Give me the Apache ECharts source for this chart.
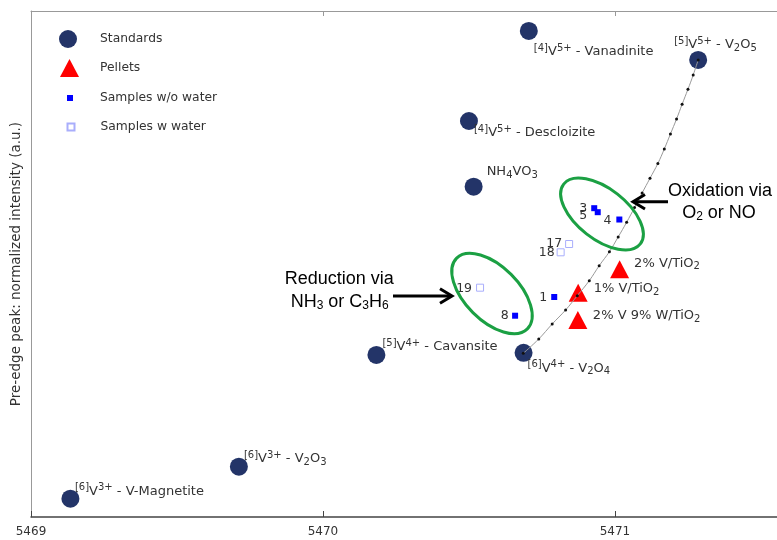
<!DOCTYPE html>
<html><head><meta charset="utf-8">
<script src="https://cdn.jsdelivr.net/npm/echarts@6/dist/echarts.min.js"></script>
<style>html,body{margin:0;padding:0;background:#fff}#c{width:777px;height:540px}</style>
</head><body><div id="c"></div>
<script>
// ---------- data ----------
const xTicks = [5469, 5470, 5471];
const standardNames = ['Vanadinite', 'V2O5', 'Descloizite', 'NH4VO3', 'Cavansite', 'V2O4', 'V2O3', 'V-Magnetite'];
const standardLabels = [
  '{sp|[4]}{t|V}{sp|5+}{t| - Vanadinite}',
  '{sp|[5]}{t|V}{sp|5+}{t| - V}{sb|2}{t|O}{sb|5}',
  '{sp|[4]}{t|V}{sp|5+}{t| - Descloizite}',
  '{t|NH}{sb|4}{t|VO}{sb|3}',
  '{sp|[5]}{t|V}{sp|4+}{t| - Cavansite}',
  '{sp|[6]}{t|V}{sp|4+}{t| - V}{sb|2}{t|O}{sb|4}',
  '{sp|[6]}{t|V}{sp|3+}{t| - V}{sb|2}{t|O}{sb|3}',
  '{sp|[6]}{t|V}{sp|3+}{t| - V-Magnetite}'
];
const standardX = [5470.705, 5471.285, 5470.500, 5470.516, 5470.183, 5470.687, 5469.712, 5469.135];
const standardY = [96.05, 90.32, 78.26, 65.28, 32.02, 32.45, 9.94, 3.62];

const pelletNames = ['2% V/TiO2', '1% V/TiO2', '2% V 9% W/TiO2'];
const pelletLabels = ['{t|2% V/TiO}{sb|2}', '{t|1% V/TiO}{sb|2}', '{t|2% V 9% W/TiO}{sb|2}'];
const pelletX = [5471.016, 5470.874, 5470.873];
const pelletY = [48.95, 44.33, 38.93];

const dryNames = ['3', '5', '4', '1', '8'];
const dryX = [5470.929, 5470.941, 5471.015, 5470.792, 5470.658];
const dryY = [61.03, 60.24, 58.79, 43.48, 39.78];

const wetNames = ['17', '18', '19'];
const wetX = [5470.843, 5470.814, 5470.538];
const wetY = [53.95, 52.31, 45.32];

const curveX = [5470.686, 5470.739, 5470.785, 5470.831, 5470.871, 5470.912, 5470.946, 5470.981, 5471.011, 5471.040,
  5471.067, 5471.093, 5471.120, 5471.147, 5471.169, 5471.190, 5471.211, 5471.230, 5471.250, 5471.268, 5471.285];
const curveY = [32.35, 35.18, 38.14, 40.91, 43.74, 46.70, 49.66, 52.43, 55.34, 58.24,
  61.15, 64.03, 66.94, 69.86, 72.73, 75.69, 78.66, 81.56, 84.53, 87.35, 90.32];

// ---------- layout / style ----------
const standardLabelOffset = [[-4, 21], [-33, -15.5], [-4, 12], [4, -15], [-3, -8], [-5, 15.5], [-4, -8], [-4.5, -7.5]];
const pelletLabelOffset = [[5, -6], [6, -4], [5.5, -4]];
const dryLabelOffset = [[-4, 1], [-7.5, 3.3], [-5, 1.3], [-4, 0.3], [-3.3, 0]];
const wetLabelOffset = [[-3, -0.5], [-2, 0], [-4, 0.6]];

const FONT = 'DejaVu Sans';
const TXT = '#333';
const rich = {
  t: {fontSize: 13, lineHeight: 17, fontFamily: FONT, color: TXT},
  sp: {fontSize: 10, lineHeight: 10, verticalAlign: 'top', fontFamily: FONT, color: TXT},
  sb: {fontSize: 10, lineHeight: 10, verticalAlign: 'bottom', fontFamily: FONT, color: TXT}
};

const standardsData = standardX.map((x, i) => ({
  value: [x, standardY[i]], name: standardNames[i],
  label: {show: true, position: 'right', distance: 0, offset: standardLabelOffset[i],
    formatter: () => standardLabels[i], rich: rich}
}));
const pelletData = pelletX.map((x, i) => ({
  value: [x, pelletY[i]], name: pelletNames[i],
  label: {show: true, position: 'right', distance: 0, offset: pelletLabelOffset[i],
    formatter: () => pelletLabels[i], rich: rich}
}));
const dryData = dryX.map((x, i) => ({
  value: [x, dryY[i]], name: dryNames[i],
  label: {show: true, position: 'left', distance: 0, offset: dryLabelOffset[i],
    formatter: () => dryNames[i], fontSize: 12.5, fontFamily: FONT, color: TXT}
}));
const wetData = wetX.map((x, i) => ({
  value: [x, wetY[i]], name: wetNames[i],
  label: {show: true, position: 'left', distance: 0, offset: wetLabelOffset[i],
    formatter: () => wetNames[i], fontSize: 12.5, fontFamily: FONT, color: TXT}
}));
const curveData = curveX.map((x, i) => [x, curveY[i]]);

const NAVY = '#233468', RED = '#ff0000', BLUE = '#0000ff', LIGHT = '#a9aefc', GREEN = '#1ba043';
const legendText = {fontSize: 12.3, fontFamily: FONT, color: TXT};

const chart = echarts.init(document.getElementById('c'));
chart.setOption({
  animation: false,
  grid: {left: 31, right: 0, top: 11, bottom: 23, containLabel: false, outerBoundsMode: 'none'},
  legend: [
    {data: ['Standards'], left: 59, top: 30, itemWidth: 18, itemHeight: 18, padding: 0, selectedMode: false,
      textStyle: Object.assign({padding: [0, 0, 0, 18]}, legendText)},
    {data: ['Pellets'], left: 60, top: 59, itemWidth: 19, itemHeight: 18, padding: 0, selectedMode: false,
      textStyle: Object.assign({padding: [0, 0, 0, 16]}, legendText)},
    {data: ['Samples w/o water'], left: 67, top: 92, itemWidth: 6, itemHeight: 6, padding: 0, selectedMode: false,
      textStyle: Object.assign({padding: [0, 0, 0, 22]}, legendText)},
    {data: ['Samples w water'], left: 66.5, top: 121, itemWidth: 7, itemHeight: 7, padding: 0, selectedMode: false,
      textStyle: Object.assign({padding: [0, 0, 0, 21]}, legendText)}
  ],
  xAxis: [
    {type: 'value', position: 'bottom', min: 5469, max: 5471.555, interval: 1,
      axisLine: {lineStyle: {color: '#444', width: 1.5}},
      axisTick: {inside: true, length: 6, lineStyle: {color: '#444'}},
      axisLabel: {fontSize: 12, fontFamily: FONT, color: TXT, margin: 9,
        formatter: v => (xTicks.indexOf(v) >= 0 ? String(v) : '')},
      splitLine: {show: false}},
    {type: 'value', position: 'top', min: 5469, max: 5471.555, interval: 1,
      axisLine: {lineStyle: {color: '#999', width: 1}},
      axisTick: {inside: true, length: 5, lineStyle: {color: '#999'}},
      axisLabel: {show: false}, splitLine: {show: false}}
  ],
  yAxis: {type: 'value', min: 0, max: 100,
    name: 'Pre-edge peak: normalized intensity (a.u.)', nameLocation: 'middle', nameGap: 8,
    nameTextStyle: {fontSize: 13.5, fontFamily: FONT, color: TXT},
    axisLine: {show: true, lineStyle: {color: '#999'}}, axisTick: {show: false},
    axisLabel: {show: false}, splitLine: {show: false}},
  series: [
    {name: 'Standards', type: 'scatter', symbol: 'circle', symbolSize: 18, z: 2,
      itemStyle: {color: NAVY, opacity: 1}, data: standardsData},
    {name: 'Pellets', type: 'scatter', symbol: 'triangle', symbolSize: [19, 18], z: 2,
      itemStyle: {color: RED, opacity: 1}, data: pelletData},
    {name: 'Samples w/o water', type: 'scatter', symbol: 'rect', symbolSize: 6, z: 3,
      itemStyle: {color: BLUE, opacity: 1}, data: dryData},
    {name: 'Samples w water', type: 'scatter', symbol: 'rect', symbolSize: 7, z: 3,
      itemStyle: {color: '#fff', borderColor: LIGHT, borderWidth: 1, opacity: 1}, data: wetData},
    {name: 'curve', type: 'line', smooth: 0.4, symbol: 'circle', symbolSize: 3, showAllSymbol: true, z: 4,
      itemStyle: {color: '#111'}, lineStyle: {color: '#999', width: 1}, data: curveData, silent: true}
  ],
  graphic: [
    {type: 'ellipse', x: 602, y: 214, rotation: -38 * Math.PI / 180, shape: {cx: 0, cy: 0, rx: 48.6, ry: 25.2},
      style: {fill: 'none', stroke: GREEN, lineWidth: 3}, z: 10},
    {type: 'ellipse', x: 492, y: 293.5, rotation: -45 * Math.PI / 180, shape: {cx: 0, cy: 0, rx: 50, ry: 27},
      style: {fill: 'none', stroke: GREEN, lineWidth: 3}, z: 10},
    {type: 'line', shape: {x1: 668, y1: 201.7, x2: 634, y2: 201.7}, style: {stroke: '#000', lineWidth: 3}, z: 10},
    {type: 'polyline', shape: {points: [[645, 194.5], [633, 201.7], [645, 209]]}, style: {stroke: '#000', lineWidth: 3, fill: 'none'}, z: 10},
    {type: 'line', shape: {x1: 393, y1: 296, x2: 451, y2: 296}, style: {stroke: '#000', lineWidth: 3}, z: 10},
    {type: 'polyline', shape: {points: [[440, 288.8], [452, 296], [440, 303.2]]}, style: {stroke: '#000', lineWidth: 3, fill: 'none'}, z: 10},
    {type: 'text', x: 720, y: 190.7, z: 10, style: {text: 'Oxidation via', align: 'center', verticalAlign: 'middle',
      font: '18px "Liberation Sans"', fill: '#000'}},
    {type: 'text', x: 719, y: 212.7, z: 10, style: {text: '{a|O}{b|2}{a| or NO}', align: 'center', verticalAlign: 'middle',
      rich: {a: {fontSize: 18, fontFamily: 'Liberation Sans', lineHeight: 20, fill: '#000'},
             b: {fontSize: 12, fontFamily: 'Liberation Sans', lineHeight: 10, verticalAlign: 'bottom', fill: '#000'}}}},
    {type: 'text', x: 339.2, y: 279.3, z: 10, style: {text: 'Reduction via', align: 'center', verticalAlign: 'middle',
      font: '18px "Liberation Sans"', fill: '#000'}},
    {type: 'text', x: 339.7, y: 301.7, z: 10, style: {text: '{a|NH}{b|3}{a| or C}{b|3}{a|H}{b|6}', align: 'center', verticalAlign: 'middle',
      rich: {a: {fontSize: 18, fontFamily: 'Liberation Sans', lineHeight: 20, fill: '#000'},
             b: {fontSize: 12, fontFamily: 'Liberation Sans', lineHeight: 10, verticalAlign: 'bottom', fill: '#000'}}}}
  ]
});
</script></body></html>
